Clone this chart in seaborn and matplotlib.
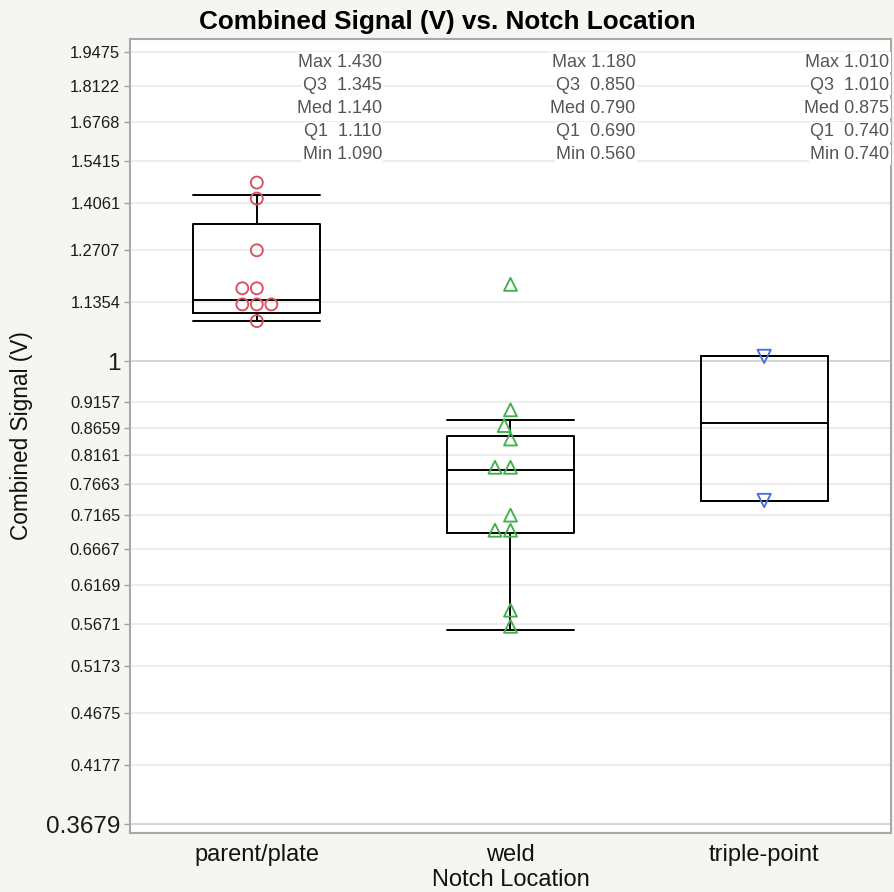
import matplotlib
matplotlib.use("Agg")
import matplotlib.pyplot as plt
import matplotlib.transforms as mtransforms
import numpy as np
import pandas as pd
import seaborn as sns

# ---------------- data ----------------
categories = ["parent/plate", "weld", "triple-point"]
parent_vals = [1.47, 1.42, 1.27, 1.17, 1.17, 1.13, 1.13, 1.13, 1.09]
weld_vals = [1.18, 0.90, 0.87, 0.845, 0.795, 0.795, 0.717, 0.694, 0.694, 0.584, 0.564]
triple_vals = [1.01, 0.74]

stat_max = [1.430, 1.180, 1.010]
stat_q3 = [1.345, 0.850, 1.010]
stat_med = [1.140, 0.790, 0.875]
stat_q1 = [1.110, 0.690, 0.740]
stat_min = [1.090, 0.560, 0.740]
whisker_top = [1.430, 0.880, 1.010]

ytick_vals = [0.3679, 0.4177, 0.4675, 0.5173, 0.5671, 0.6169, 0.6667, 0.7165,
              0.7663, 0.8161, 0.8659, 0.9157, 1, 1.1354, 1.2707, 1.4061,
              1.5415, 1.6768, 1.8122, 1.9475]
ytick_labels = ["0.3679", "0.4177", "0.4675", "0.5173", "0.5671", "0.6169",
                "0.6667", "0.7165", "0.7663", "0.8161", "0.8659", "0.9157",
                "1", "1.1354", "1.2707", "1.4061", "1.5415", "1.6768",
                "1.8122", "1.9475"]
major_labels = ["0.3679", "1"]

title = "Combined Signal (V) vs. Notch Location"
xlabel = "Notch Location"
ylabel = "Combined Signal (V)"

# ---------------- styling ----------------
sns.set_theme(style="white")
plt.rcParams["font.family"] = ["Liberation Sans", "DejaVu Sans"]

colors = ["#d9505f", "#3db34a", "#4a70e0"]
markers = ["o", "^", "v"]
msizes = [8.6, 9.3, 9.6]
mlw = 1.35

fig = plt.figure(figsize=(8.95, 8.92), dpi=100)
fig.patch.set_facecolor("#f5f5f1")
ax = fig.add_axes([130 / 895, 1 - 833 / 892, 761 / 895, 794 / 892])
ax.set_facecolor("white")
ax.set_yscale("log")

df = pd.DataFrame({
    "loc": [categories[0]] * len(parent_vals) + [categories[1]] * len(weld_vals)
           + [categories[2]] * len(triple_vals),
    "val": parent_vals + weld_vals + triple_vals,
})

# grid lines
for v, lab in zip(ytick_vals, ytick_labels):
    ax.axhline(v, color="#d2d2d2" if lab in major_labels else "#ececec",
               lw=1.3, zorder=0)

# boxes from the summary statistics
stats = []
for i, c in enumerate(categories):
    stats.append(dict(label=c, med=stat_med[i], q1=stat_q1[i], q3=stat_q3[i],
                      whislo=stat_min[i], whishi=whisker_top[i], fliers=[]))
lp = dict(color="black", linewidth=1.4)
ax.bxp(stats, positions=range(len(categories)), widths=0.5, capwidths=0.5,
       showfliers=False, manage_ticks=False, patch_artist=False,
       boxprops=lp, whiskerprops=lp, capprops=lp, medianprops=lp, zorder=3)

# points
for i, c in enumerate(categories):
    before = len(ax.collections)
    sns.swarmplot(data=df[df["loc"] == c], x="loc", y="val", order=categories,
                  marker=markers[i], size=msizes[i], color=colors[i],
                  linewidth=mlw, ax=ax, zorder=4)
    for coll in ax.collections[before:]:
        coll.set_facecolor("none")
        coll.set_edgecolor(colors[i])
        coll.set_linewidth(mlw)

ax.set_xlim(-0.5, 2.5)
ax.set_ylim(0.361, 2.004)
ax.yaxis.set_minor_locator(matplotlib.ticker.NullLocator())
ax.set_yticks(ytick_vals)
ax.set_yticklabels(ytick_labels)
for t in ax.get_yticklabels():
    if t.get_text() in major_labels:
        t.set_fontsize(17.5)
    else:
        t.set_fontsize(11.8)
    t.set_color("#1a1a1a")
ax.tick_params(axis="y", which="major", length=4, width=1, color="#a0a0a0",
               pad=3, left=True)
ax.set_xticks(range(len(categories)))
ax.set_xticklabels(categories, fontsize=17, color="#111111")
ax.tick_params(axis="x", length=0, pad=8)

ax.set_xlabel(xlabel, fontsize=17, color="#111111", labelpad=2)
ax.set_ylabel(ylabel, fontsize=16.3, color="#111111", labelpad=9)

for s in ax.spines.values():
    s.set_visible(True)
    s.set_color("#a8a8a8")
    s.set_linewidth(1.5)

# summary text
trans = mtransforms.blended_transform_factory(ax.transData, ax.transAxes)
for i in range(len(categories)):
    lines = [f"Max {stat_max[i]:.3f}", f"Q3  {stat_q3[i]:.3f}",
             f"Med {stat_med[i]:.3f}", f"Q1  {stat_q1[i]:.3f}",
             f"Min {stat_min[i]:.3f}"]
    for k, line in enumerate(lines):
        ax.text(i + 0.493, 0.9707 - k * 0.0291, line, transform=trans,
                ha="right", va="center", fontsize=13, color="#555555",
                bbox=dict(facecolor="white", edgecolor="none", pad=1.0),
                zorder=5)

fig.text(0.5, 1 - 22 / 892, title, ha="center", va="center",
         fontsize=18.8, fontweight="bold", color="black")

fig.savefig("out.png", dpi=100, facecolor=fig.get_facecolor())
